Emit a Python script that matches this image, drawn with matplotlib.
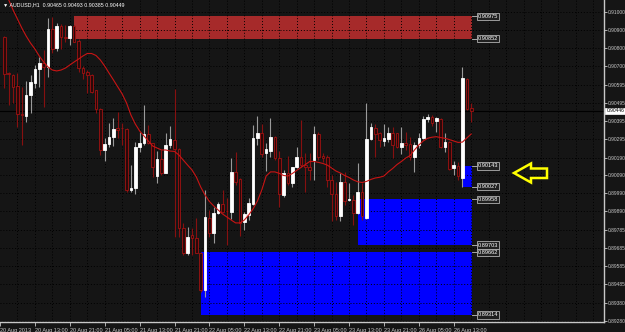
import matplotlib
matplotlib.use("Agg")
import matplotlib.pyplot as plt
from matplotlib.patches import Rectangle, Polygon

# Datos de las velas (AUDUSD H1)
opens = [0.90863, 0.90662, 0.90649, 0.90588, 0.90431, 0.90421, 0.90538, 0.90607, 0.90683, 0.90718,
         0.90696, 0.90904, 0.90798, 0.90922, 0.90863, 0.90855, 0.90922, 0.90840, 0.90687, 0.90666,
         0.90649, 0.90566, 0.90458, 0.90232, 0.90265, 0.90306, 0.90354, 0.90353, 0.90347, 0.90009,
         0.90022, 0.90247, 0.90269, 0.90321, 0.90269, 0.90089, 0.90182, 0.90106, 0.90260, 0.90288,
         0.90236, 0.89796, 0.89657, 0.89759, 0.89740, 0.89657, 0.89453, 0.89852, 0.89772, 0.89883,
         0.89931, 0.89892, 0.89889, 0.90111, 0.90069, 0.89829, 0.89870, 0.89931, 0.90297, 0.90325,
         0.90217, 0.90228, 0.90306, 0.90186, 0.89981, 0.90106, 0.90047, 0.90136, 0.90195, 0.90148,
         0.90136, 0.90176, 0.90321, 0.90199, 0.90191, 0.90065, 0.89987, 0.89865, 0.90056, 0.89954,
         0.89954, 0.89883, 0.90000, 0.89852, 0.90292, 0.90353, 0.90325, 0.90284, 0.90292, 0.90328,
         0.90325, 0.90247, 0.90273, 0.90265, 0.90195, 0.90260, 0.90297, 0.90403, 0.90417, 0.90395,
         0.90403, 0.90247, 0.90278, 0.90130, 0.90143, 0.90074, 0.90625, 0.90465]
highs = [0.90866, 0.90668, 0.90655, 0.90662, 0.90584, 0.90618, 0.90649, 0.90705, 0.90751, 0.90789,
         0.90965, 0.90970, 0.90937, 0.90933, 0.90928, 0.90928, 0.90928, 0.90848, 0.90699, 0.90677,
         0.90655, 0.90566, 0.90464, 0.90297, 0.90380, 0.90408, 0.90443, 0.90380, 0.90354, 0.90148,
         0.90278, 0.90334, 0.90482, 0.90371, 0.90271, 0.90228, 0.90232, 0.90328, 0.90366, 0.90570,
         0.90243, 0.89824, 0.89802, 0.89798, 0.89852, 0.89664, 0.90009, 0.89898, 0.89916, 0.89944,
         0.90009, 0.89963, 0.90189, 0.90222, 0.90074, 0.89889, 0.89963, 0.90371, 0.90421, 0.90377,
         0.90269, 0.90408, 0.90310, 0.90228, 0.90121, 0.90200, 0.90139, 0.90247, 0.90399, 0.90217,
         0.90217, 0.90366, 0.90332, 0.90217, 0.90204, 0.90093, 0.90056, 0.90102, 0.90111, 0.90050,
         0.89981, 0.90158, 0.90047, 0.90492, 0.90380, 0.90377, 0.90334, 0.90377, 0.90362, 0.90362,
         0.90328, 0.90358, 0.90334, 0.90306, 0.90278, 0.90328, 0.90421, 0.90432, 0.90427, 0.90414,
         0.90408, 0.90328, 0.90284, 0.90172, 0.90167, 0.90692, 0.90631, 0.90493]
lows = [0.90577, 0.90482, 0.90494, 0.90362, 0.90260, 0.90389, 0.90436, 0.90575, 0.90581, 0.90473,
        0.90637, 0.90770, 0.90785, 0.90792, 0.90835, 0.90816, 0.90833, 0.90668, 0.90625, 0.90547,
        0.90551, 0.90436, 0.90204, 0.90172, 0.90250, 0.90254, 0.90299, 0.90260, 0.90000, 0.90000,
        0.89987, 0.90222, 0.90260, 0.90265, 0.90083, 0.90050, 0.90093, 0.90102, 0.90241, 0.89748,
        0.89749, 0.89648, 0.89648, 0.89648, 0.89657, 0.89442, 0.89415, 0.89749, 0.89713, 0.89876,
        0.89880, 0.89703, 0.89846, 0.90037, 0.89753, 0.89787, 0.89842, 0.89926, 0.90260, 0.90195,
        0.90117, 0.90195, 0.90176, 0.89916, 0.89972, 0.90037, 0.90028, 0.90130, 0.90139, 0.90000,
        0.90065, 0.90065, 0.90176, 0.90167, 0.90028, 0.89838, 0.89842, 0.89838, 0.89926, 0.89950,
        0.89814, 0.89876, 0.89842, 0.89846, 0.90288, 0.90195, 0.90250, 0.90254, 0.90278, 0.90186,
        0.90241, 0.90210, 0.90232, 0.90176, 0.90111, 0.90243, 0.90292, 0.90388, 0.90366, 0.90334,
        0.90243, 0.90222, 0.90121, 0.90093, 0.90065, 0.90024, 0.90455, 0.90385]
closes = [0.90653, 0.90655, 0.90584, 0.90431, 0.90425, 0.90538, 0.90612, 0.90684, 0.90718, 0.90696,
          0.90904, 0.90792, 0.90922, 0.90859, 0.90855, 0.90922, 0.90835, 0.90687, 0.90662, 0.90649,
          0.90556, 0.90458, 0.90232, 0.90265, 0.90306, 0.90347, 0.90343, 0.90352, 0.90009, 0.90022,
          0.90247, 0.90269, 0.90321, 0.90269, 0.90136, 0.90182, 0.90106, 0.90260, 0.90292, 0.90236,
          0.89798, 0.89657, 0.89749, 0.89740, 0.89660, 0.89453, 0.89857, 0.89768, 0.89883, 0.89931,
          0.89889, 0.89891, 0.90111, 0.90056, 0.89824, 0.89876, 0.89935, 0.90297, 0.90325, 0.90210,
          0.90236, 0.90303, 0.90186, 0.89987, 0.90102, 0.90047, 0.90136, 0.90195, 0.90148, 0.90136,
          0.90121, 0.90321, 0.90195, 0.90186, 0.90065, 0.89987, 0.89865, 0.90056, 0.89950, 0.89958,
          0.89883, 0.90000, 0.89865, 0.90292, 0.90358, 0.90321, 0.90288, 0.90297, 0.90328, 0.90260,
          0.90247, 0.90269, 0.90260, 0.90195, 0.90260, 0.90300, 0.90403, 0.90417, 0.90384, 0.90408,
          0.90247, 0.90278, 0.90125, 0.90148, 0.90087, 0.90631, 0.90458, 0.90449]

# Media movil
ma = [0.91111, 0.91067, 0.91011, 0.90961, 0.90911, 0.90866, 0.90827, 0.90794, 0.90755, 0.90722,
      0.90694, 0.90677, 0.90672, 0.90677, 0.90688, 0.90705, 0.90722, 0.90738, 0.90755, 0.90769,
      0.90769, 0.90758, 0.90733, 0.90699, 0.90660, 0.90622, 0.90583, 0.90544, 0.90494, 0.90427,
      0.90377, 0.90338, 0.90310, 0.90282, 0.90254, 0.90243, 0.90232, 0.90232, 0.90226, 0.90224,
      0.90204, 0.90176, 0.90148, 0.90121, 0.90082, 0.90026, 0.89981, 0.89945, 0.89920, 0.89898,
      0.89876, 0.89859, 0.89842, 0.89826, 0.89826, 0.89842, 0.89870, 0.89904, 0.89948, 0.90009,
      0.90087, 0.90110, 0.90110, 0.90102, 0.90090, 0.90087, 0.90101, 0.90118, 0.90135, 0.90151,
      0.90168, 0.90168, 0.90163, 0.90157, 0.90148, 0.90132, 0.90115, 0.90104, 0.90090, 0.90079,
      0.90065, 0.90055, 0.90051, 0.90057, 0.90068, 0.90076, 0.90080, 0.90087, 0.90110, 0.90129,
      0.90151, 0.90168, 0.90187, 0.90201, 0.90232, 0.90260, 0.90282, 0.90297, 0.90303, 0.90306,
      0.90301, 0.90297, 0.90290, 0.90282, 0.90274, 0.90276, 0.90299, 0.90321]

# Zonas (oferta / demanda)
zone_start = [16, 105, 81, 45]
zone_top = [0.90975, 0.90143, 0.89958, 0.89662]
zone_bottom = [0.90852, 0.90027, 0.89703, 0.89314]
zone_colors = ['#a62a2a', '#0000ff', '#0000ff', '#0000ff']

# Ejes
x_tick_pos = [-1, 7, 15, 23, 31, 39, 47, 55, 63, 71, 79, 87, 95, 103]
x_tick_labels = ['20 Aug 2013', '20 Aug 13:00', '20 Aug 21:00', '21 Aug 05:00', '21 Aug 13:00',
                 '21 Aug 21:00', '22 Aug 05:00', '22 Aug 13:00', '22 Aug 21:00', '23 Aug 05:00',
                 '23 Aug 13:00', '23 Aug 21:00', '26 Aug 05:00', '26 Aug 13:00']
y_ticks = [0.91000, 0.90900, 0.90800, 0.90700, 0.90595, 0.90495, 0.90395, 0.90295, 0.90190,
           0.90090, 0.89990, 0.89890, 0.89785, 0.89685, 0.89585, 0.89485, 0.89380, 0.89280]
bid_label = '0.90446'
title = '\u25bc AUDUSD,H1  0.90465 0.90493 0.90385 0.90449'

plt.rcParams['font.family'] = ['Liberation Sans', 'DejaVu Sans']
bg = '#151515'

fig = plt.figure(figsize=(6.25, 3.32), dpi=100, facecolor=bg)
ax = fig.add_axes([0, 10 / 332, 604 / 625, 322 / 332])
ax.set_facecolor(bg)
ax.set_xlim(-0.62, 137.44)
ax.set_ylim(0.892745, 0.910668)

# zonas
x_end = len(closes) - 1 + 0.2
for s, t, b, c in zip(zone_start, zone_top, zone_bottom, zone_colors):
    ax.add_patch(Rectangle((s, b), x_end - s, t - b, facecolor=c, edgecolor='none', zorder=1))
    for lvl in (t, b):
        ax.plot([x_end, x_end + 1.3], [lvl, lvl], color='#c0c0c0', lw=0.6, zorder=4)
        ax.text(x_end + 1.3, lvl, f'{lvl:.5f}', ha='left', va='center', fontsize=4.1,
                color='white', zorder=5,
                bbox=dict(boxstyle='square,pad=0.2', fc='#202020', ec='#b0b0b0', lw=0.6))

# grilla
for y in y_ticks:
    ax.axhline(y, color='black', lw=0.7, ls=(0, (1, 2)), zorder=2)
for xg in range(3, 138, 4):
    ax.axvline(xg, color='black', lw=0.7, ls=(0, (1, 2)), zorder=2)

# linea bid
ax.axhline(closes[-1], color='black', lw=0.8, zorder=2)

# velas
for i in range(len(closes)):
    o, h, l, c = opens[i], highs[i], lows[i], closes[i]
    if c >= o:
        wick, face, edge = '#9a9a9a', 'white', 'white'
    else:
        wick, face, edge = '#861010', '#2a0808', '#a01212'
    ax.vlines(i, l, h, color=wick, lw=0.8, zorder=3)
    ax.bar(i, max(abs(c - o), 0.000005), width=0.6, bottom=min(o, c),
           color=face, edgecolor=edge, linewidth=0.6, zorder=3)

# media movil
ax.plot(range(len(ma)), ma, color='#c81414', lw=0.8, zorder=3.5)

# ejes
for s in ['top', 'left']:
    ax.spines[s].set_visible(False)
for s in ['right', 'bottom']:
    ax.spines[s].set_color('#c8c8c8')
    ax.spines[s].set_linewidth(1)
ax.yaxis.tick_right()
ax.set_yticks(y_ticks)
ax.set_yticklabels([f'{v:.5f}' for v in y_ticks])
ax.set_xticks(x_tick_pos)
ax.set_xticklabels(x_tick_labels)
for lbl in ax.get_xticklabels():
    lbl.set_ha('left')
ax.tick_params(axis='y', colors='#c8c8c8', labelsize=3.5, length=2, width=0.6, pad=0.6)
ax.tick_params(axis='x', colors='#c8c8c8', labelsize=4.0, length=3, width=0.6, pad=1.2)

ax.text(1.004, closes[-1], bid_label, transform=ax.get_yaxis_transform(), ha='left',
        va='center', fontsize=3.5, color='black',
        bbox=dict(boxstyle='square,pad=0.2', fc='white', ec='white', lw=0.5))

fig.text(3 / 625, 1 - 5 / 332, title, color='white', fontsize=3.8, va='center', ha='left')

# flecha amarilla
flecha = [(514, 173), (531, 163.5), (531, 168.5), (547, 168.5), (547, 178), (531, 178), (531, 182.5)]
fig.add_artist(Polygon([(x / 625, 1 - y / 332) for x, y in flecha], closed=True, fill=False,
                       edgecolor='#ffff00', lw=1.8, transform=fig.transFigure))

fig.savefig('out.png', dpi=100, facecolor=bg)
